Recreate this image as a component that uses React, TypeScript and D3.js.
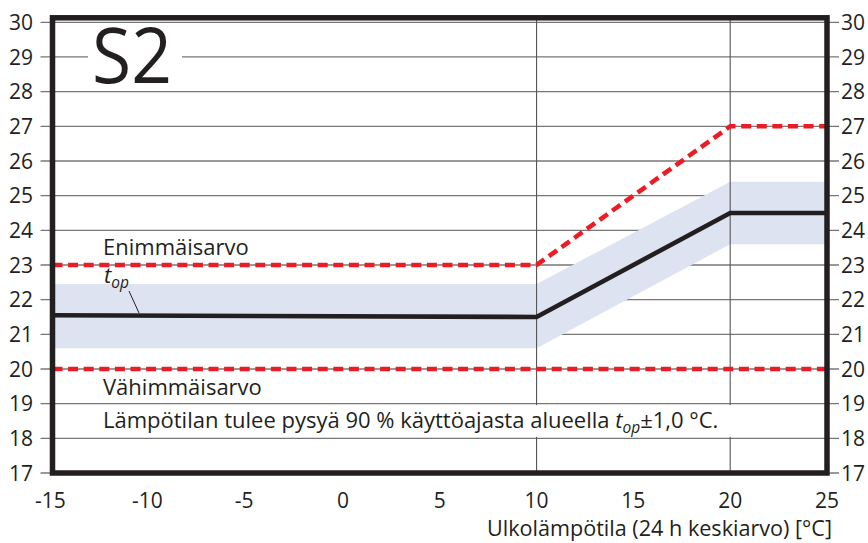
import React, { useRef, useEffect } from 'react'
import * as d3 from 'd3'

const xTicks = [-15, -10, -5, 0, 5, 10, 15, 20, 25]
const yTicks = [17, 18, 19, 20, 21, 22, 23, 24, 25, 26, 27, 28, 29, 30]
const xGrid = [10, 20]

// t_op curve and its band
const topX = [-15, 10, 20, 25]
const topY = [21.55, 21.5, 24.5, 24.5]
const bandUpper = [22.45, 22.45, 25.4, 25.4]
const bandLower = [20.6, 20.6, 23.6, 23.6]

// limits
const maxX = [-15, 10, 20, 25]
const maxY = [23, 23, 27, 27]
const minX = [-15, 25]
const minY = [20, 20]

const INK = '#231f20'
const FONT = '"Open Sans", sans-serif'

export default function App() {
  const ref = useRef<SVGSVGElement>(null)

  useEffect(() => {
    const svg = d3.select(ref.current)
    svg.selectAll('*').remove()

    const x = d3.scaleLinear().domain([-15, 25]).range([52.5, 827])
    const y = d3.scaleLinear().domain([17, 30]).range([473, 22.3])
    const top = y(30) - 4.5
    const bottom = y(17)

    const g = svg.append('g')

    // horizontal grid + ticks on both sides
    g.selectAll('line.hgrid').data(yTicks).join('line')
      .attr('x1', x(-15) - 12).attr('x2', x(25) + 12)
      .attr('y1', d => y(d)).attr('y2', d => y(d))
      .attr('stroke', '#777').attr('stroke-width', 1.3)

    // band
    const bandData = topX.map((v, i) => ({ x: v, hi: bandUpper[i], lo: bandLower[i] }))
    const area = d3.area<any>().x(d => x(d.x)).y0(d => y(d.lo)).y1(d => y(d.hi))
    g.append('path').attr('d', area(bandData)).attr('fill', '#dee3f2')

    // white box behind S2
    g.append('rect').attr('x', 88).attr('y', y(29) - 30).attr('width', 94).attr('height', 62).attr('fill', 'white')

    // vertical grid
    g.selectAll('line.vgrid').data(xGrid).join('line')
      .attr('x1', d => x(d)).attr('x2', d => x(d))
      .attr('y1', top).attr('y2', bottom)
      .attr('stroke', '#555').attr('stroke-width', 1.1)
    // white box behind the note
    g.append('rect').attr('x', 96).attr('y', y(19) + 1.5).attr('width', 640).attr('height', y(18) - y(19) - 3).attr('fill', 'white')

    const line = d3.line<number>()

    // t_op line
    g.append('path')
      .attr('d', line(topX.map((v, i) => [x(v), y(topY[i])] as [number, number])))
      .attr('fill', 'none').attr('stroke', INK).attr('stroke-width', 4.6)

    // limit lines
    const dashed = (xs: number[], ys: number[]) =>
      g.append('path')
        .attr('d', line(xs.map((v, i) => [x(v), y(ys[i])] as [number, number])))
        .attr('fill', 'none').attr('stroke', '#ed1c24').attr('stroke-width', 4.6)
        .attr('stroke-dasharray', '10 5.6')
    dashed(maxX, maxY)
    dashed(minX, minY)

    // frame
    g.append('rect')
      .attr('x', x(-15)).attr('y', top)
      .attr('width', x(25) - x(-15)).attr('height', bottom - top)
      .attr('fill', 'none').attr('stroke', INK).attr('stroke-width', 5.5)

    // tick labels
    const txt = (sel: any) => sel.attr('font-family', FONT).attr('fill', INK)
    g.selectAll('text.yl').data(yTicks).join('text').call(txt)
      .attr('x', 33).attr('y', d => y(d)).attr('dy', '0.36em')
      .attr('text-anchor', 'end').attr('font-size', 21).text(d => d)
    g.selectAll('text.yr').data(yTicks).join('text').call(txt)
      .attr('x', 841).attr('y', d => y(d)).attr('dy', '0.36em')
      .attr('font-size', 21).text(d => d)
    g.selectAll('text.xl').data(xTicks).join('text').call(txt)
      .attr('x', d => x(d) - (d < 0 ? 2 : 0)).attr('y', 508)
      .attr('text-anchor', 'middle').attr('font-size', 21).text(d => d)

    g.append('text').call(txt).attr('x', 832).attr('y', 536)
      .attr('text-anchor', 'end').attr('font-size', 21.6)
      .text('Ulkolämpötila (24 h keskiarvo) [°C]')

    // labels in plot
    g.append('text').call(txt).attr('x', 92).attr('y', 83)
      .attr('font-size', 76).attr('textLength', 80).attr('lengthAdjust', 'spacingAndGlyphs').text('S2')
    g.append('text').call(txt).attr('x', 103).attr('y', 255).attr('font-size', 22).text('Enimmäisarvo')
    g.append('text').call(txt).attr('x', 103).attr('y', 395).attr('font-size', 22).text('Vähimmäisarvo')

    const tl = g.append('text').call(txt).attr('x', 104).attr('y', 283).attr('font-size', 22)
    tl.append('tspan').attr('font-style', 'italic').text('t')
    tl.append('tspan').attr('font-style', 'italic').attr('font-size', 15.5).attr('dy', 5).text('op')
    g.append('line').attr('x1', 129).attr('y1', 291).attr('x2', 139).attr('y2', 313)
      .attr('stroke', INK).attr('stroke-width', 1)

    const note = g.append('text').call(txt).attr('x', 103).attr('y', 428).attr('font-size', 22)
    note.append('tspan').text('Lämpötilan tulee pysyä 90 % käyttöajasta alueella ')
    note.append('tspan').attr('font-style', 'italic').text('t')
    note.append('tspan').attr('font-style', 'italic').attr('font-size', 15.5).attr('dy', 5).text('op')
    note.append('tspan').attr('dy', -5).text('±1,0 °C.')
  }, [])

  return (
    <svg ref={ref} width={868} height={543}
      style={{ position: 'absolute', left: 0, top: 0, background: 'white' }} />
  )
}
